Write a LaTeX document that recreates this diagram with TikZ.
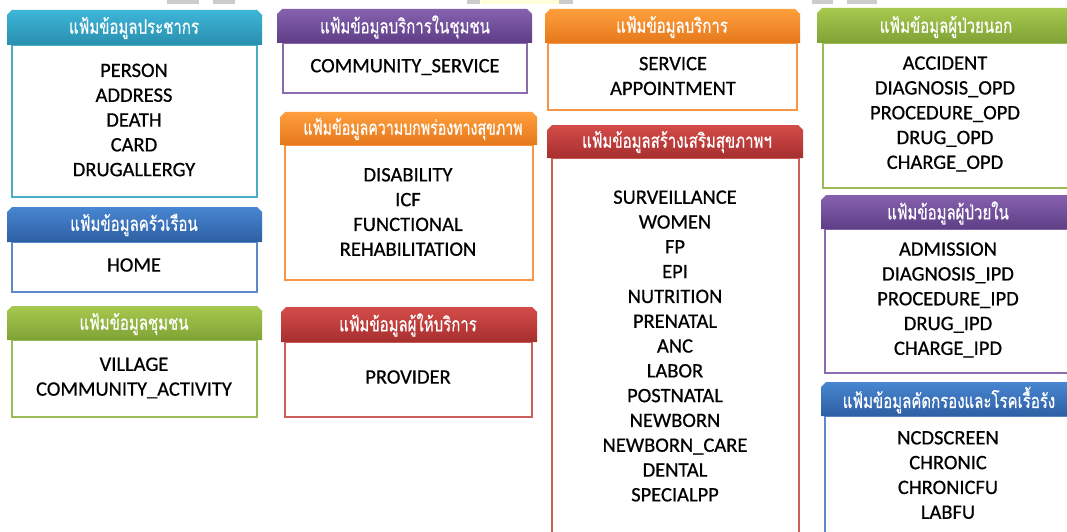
\documentclass[tikz,border=0pt]{standalone}
\usepackage{fontspec}
\setmainfont{Carlito}[FakeBold=0.6]
\newfontfamily\thaifont[Script=Thai,FakeStretch=0.75,FakeBold=0.5]{Loma}
\newfontfamily\thainarrow[Script=Thai,FakeStretch=0.71,FakeBold=0.5]{Loma}
\usepackage{tikz}
\usetikzlibrary{positioning,calc}

\definecolor{cyanA}{HTML}{3DB6D9}\definecolor{cyanB}{HTML}{2A8FAE}\definecolor{cyanL}{HTML}{4BACC6}
\definecolor{blueA}{HTML}{4886D1}\definecolor{blueB}{HTML}{2D5FA3}\definecolor{blueL}{HTML}{5A8ACB}
\definecolor{greenA}{HTML}{A7C94F}\definecolor{greenB}{HTML}{7FA235}\definecolor{greenL}{HTML}{9BBB59}
\definecolor{purpA}{HTML}{8661AF}\definecolor{purpB}{HTML}{5E3E86}\definecolor{purpL}{HTML}{8B6BAD}
\definecolor{oranA}{HTML}{FF9F3E}\definecolor{oranB}{HTML}{E5781B}\definecolor{oranL}{HTML}{F79646}
\definecolor{redA}{HTML}{D44C49}\definecolor{redB}{HTML}{A62F2F}\definecolor{redL}{HTML}{CC5F5C}

\tikzset{
  bodybox/.style={draw=#1, line width=2.5pt, fill=white},
  headbar/.style={top color=#1A, bottom color=#1B, draw=none},
  headtext/.style={text=white, font=\thaifont\fontsize{20}{22}\selectfont, inner sep=0pt},
  items/.style={align=center, font=\fontsize{20.5}{24.8}\selectfont, inner sep=0pt}
}

\begin{document}
\begin{tikzpicture}[x=1pt,y=-1pt]
\clip (0,0) rectangle (1067,532);
\fill[white] (0,0) rectangle (1067,532);
% bits of the slide above
\fill[black!20] (167,0) rectangle (199,4);
\fill[black!20] (213,0) rectangle (235,4);
\fill[black!20] (467,0) rectangle (480,4);
\fill[yellow!15] (481,0) rectangle (559,4);
\fill[black!20] (559,0) rectangle (573,4);
\fill[black!20] (812,0) rectangle (833,4);
\fill[black!20] (847,0) rectangle (877,4);

% column 1
\draw[bodybox=cyanL] (12,45) rectangle (257,197);
\shade[headbar=cyan] (7,45) -- (7,15) -- (12,10) -- (257,10) -- (262,15) -- (262,45) -- cycle;
\node[headtext] (popH) at (134,28) {แฟ้มข้อมูลประชากร};
\node[items] (popI) at (134,120) {PERSON\\ADDRESS\\DEATH\\CARD\\DRUGALLERGY};

\draw[bodybox=blueL] (12,242) rectangle (257,292);
\shade[headbar=blue] (7,242) -- (7,212) -- (12,207) -- (257,207) -- (262,212) -- (262,242) -- cycle;
\node[headtext] (homeH) at (134,225) {แฟ้มข้อมูลครัวเรือน};
\node[items] (homeI) at (134,265) {HOME};

\draw[bodybox=greenL] (12,340) rectangle (257,417);
\shade[headbar=green] (7,340) -- (7,311) -- (12,306) -- (257,306) -- (262,311) -- (262,340) -- cycle;
\node[headtext] (villH) at (134,324) {แฟ้มข้อมูลชุมชน};
\node[items] (villI) at (134,378) {VILLAGE\\COMMUNITY\_ACTIVITY};

% column 2
\draw[bodybox=purpL] (283,43) rectangle (527,93);
\shade[headbar=purp] (277,43) -- (277,14) -- (282,9) -- (527,9) -- (532,14) -- (532,43) -- cycle;
\node[headtext] (commH) at (405,27) {แฟ้มข้อมูลบริการในชุมชน};
\node[items] (commI) at (405,67) {COMMUNITY\_SERVICE};

\draw[bodybox=oranL] (285,145) rectangle (533,280);
\shade[headbar=oran] (280,145) -- (280,117) -- (285,112) -- (532,112) -- (537,117) -- (537,145) -- cycle;
\node[headtext, font=\thainarrow\fontsize{20}{22}\selectfont] (disH) at (413,129) {แฟ้มข้อมูลความบกพร่องทางสุขภาพ};
\node[items] (disI) at (408,212) {DISABILITY\\ICF\\FUNCTIONAL\\REHABILITATION};

\draw[bodybox=redL] (285,342) rectangle (532,417);
\shade[headbar=red] (281,342) -- (281,312) -- (286,307) -- (532,307) -- (537,312) -- (537,342) -- cycle;
\node[headtext] (provH) at (408,325) {แฟ้มข้อมูลผู้ให้บริการ};
\node[items] (provI) at (408,377) {PROVIDER};

% column 3
\draw[bodybox=oranL] (548,43) rectangle (797,110);
\shade[headbar=oran] (545,43) -- (545,14) -- (550,9) -- (795,9) -- (800,14) -- (800,43) -- cycle;
\node[headtext] (servH) at (672,27) {แฟ้มข้อมูลบริการ};
\node[items] (servI) at (673,76) {SERVICE\\APPOINTMENT};

\draw[bodybox=redL] (552,158) rectangle (799,545);
\shade[headbar=red] (547,158) -- (547,130) -- (552,125) -- (798,125) -- (803,130) -- (803,158) -- cycle;
\node[headtext] (ppH) at (677,142) {แฟ้มข้อมูลสร้างเสริมสุขภาพฯ};
\node[items] (ppI) at (675,346) {SURVEILLANCE\\WOMEN\\FP\\EPI\\NUTRITION\\PRENATAL\\ANC\\LABOR\\POSTNATAL\\NEWBORN\\NEWBORN\_CARE\\DENTAL\\SPECIALPP};

% column 4
\draw[bodybox=greenL] (823,43) rectangle (1080,188);
\shade[headbar=green] (817,43) -- (817,13) -- (822,8) -- (1070,8) -- (1075,13) -- (1075,43) -- cycle;
\node[headtext] (opdH) at (946,27) {แฟ้มข้อมูลผู้ป่วยนอก};
\node[items] (opdI) at (945,114) {ACCIDENT\\DIAGNOSIS\_OPD\\PROCEDURE\_OPD\\DRUG\_OPD\\CHARGE\_OPD};

\draw[bodybox=purpL] (825,229) rectangle (1080,373);
\shade[headbar=purp] (821,229) -- (821,200) -- (826,195) -- (1070,195) -- (1075,200) -- (1075,229) -- cycle;
\node[headtext] (ipdH) at (948,213) {แฟ้มข้อมูลผู้ป่วยใน};
\node[items] (ipdI) at (948,300) {ADMISSION\\DIAGNOSIS\_IPD\\PROCEDURE\_IPD\\DRUG\_IPD\\CHARGE\_IPD};

\draw[bodybox=blueL] (825,416) rectangle (1080,545);
\shade[headbar=blue] (821,416) -- (821,387) -- (826,382) -- (1070,382) -- (1075,387) -- (1075,416) -- cycle;
\node[headtext] (ncdH) at (949,400) {แฟ้มข้อมูลคัดกรองและโรคเรื้อรัง};
\node[items] (ncdI) at (948,475) {NCDSCREEN\\CHRONIC\\CHRONICFU\\LABFU};
\end{tikzpicture}
\end{document}
